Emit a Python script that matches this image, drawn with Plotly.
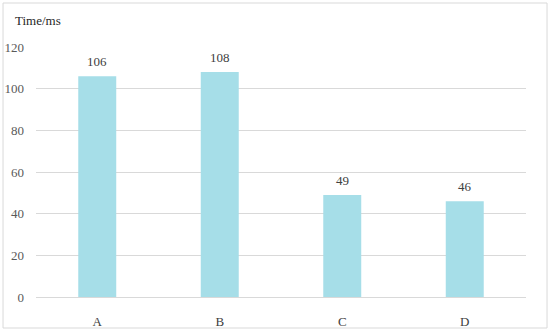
import plotly.graph_objects as go

# Data
categories = ["A", "B", "C", "D"]
times_ms = [106, 108, 49, 46]
y_ticks = [0, 20, 40, 60, 80, 100, 120]

FONT = "Palatino Linotype, Book Antiqua, Palatino, Liberation Serif, serif"
BAR = "#a6dee8"
GRID = "#d9d9d9"

fig = go.Figure()
fig.add_trace(go.Bar(x=categories, y=times_ms, marker_color=BAR,
                     marker_line_width=0, width=0.31, hoverinfo="skip"))

# value labels above the bars
for c, v in zip(categories, times_ms):
    fig.add_annotation(x=c, y=v, text=str(v), showarrow=False,
                       yanchor="bottom", yshift=5,
                       font=dict(family=FONT, size=13, color="#404040"))

# axis title placed top-left like the original
fig.add_annotation(xref="paper", yref="paper", x=-0.047, y=1.104,
                   xanchor="left", yanchor="middle", text="Time/ms",
                   showarrow=False, font=dict(family=FONT, size=13, color="#262626"))

# light frame round the whole chart
fig.add_shape(type="rect", xref="paper", yref="paper",
              x0=-0.0673, x1=1.0429, y0=-0.124, y1=1.176,
              line=dict(color=GRID, width=1), layer="below")

fig.update_xaxes(showgrid=False, showline=False, ticks="", automargin=False,
                 ticklabelstandoff=15,
                 tickfont=dict(family=FONT, size=13, color="#404040"))
fig.update_yaxes(range=[0, 120], tickvals=y_ticks, showgrid=True, gridcolor=GRID,
                 zeroline=True, zerolinecolor=GRID, zerolinewidth=1, automargin=False,
                 showline=False, ticks="", ticklabelstandoff=11,
                 tickfont=dict(family=FONT, size=13, color="#595959"))

fig.update_layout(width=550, height=332, showlegend=False,
                  plot_bgcolor="white", paper_bgcolor="white",
                  margin=dict(l=36, r=24, t=47, b=35),
                  bargap=0.69)

# drop the page's default body margin so the chart sits at the window corner
fig.write_html("out.html", config={"displayModeBar": False},
               post_script="document.body.style.margin='0';")
